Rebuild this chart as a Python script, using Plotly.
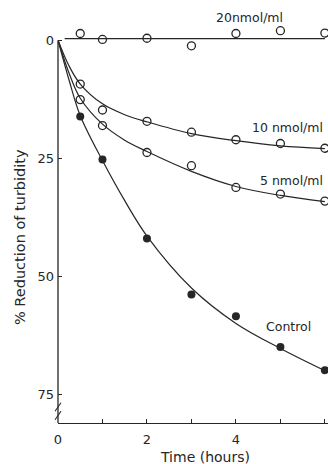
import plotly.graph_objects as go

# ---- data ----
time_points = [0.5, 1, 2, 3, 4, 5, 6]
pts_20 = [-1.4, -0.15, -0.4, 1.2, -1.4, -2.0, -1.5]
pts_10 = [9.3, 14.8, 17.2, 19.5, 21.1, 21.9, 22.9]
pts_5 = [12.6, 18.1, 23.8, 26.6, 31.2, 32.6, 34.1]
pts_control = [16.2, 25.3, 42.0, 53.9, 58.5, 65.0, 69.9]

# fitted curves
curve_t = [0, 0.25, 0.5, 1, 1.5, 2, 3, 4, 5, 6]
curve_10 = [0, 5.5, 9.3, 13.5, 15.8, 17.3, 19.8, 21.3, 22.4, 23.0]
curve_5 = [0, 7.0, 12.3, 17.8, 21.2, 23.6, 27.8, 31.0, 32.9, 34.2]
curve_control = [0, 8.5, 16.0, 25.5, 34.0, 41.5, 52.5, 60.0, 65.3, 70.0]
line20_t = [0.15, 6]
line20_v = [-0.3, -0.3]

x_ticks = [0, 1, 2, 3, 4, 5, 6]
x_ticklabels = ["0", "", "2", "", "4", "", "6"]
y_ticks = [0, 25, 50, 75]
y_ticklabels = ["0", "25", "50", "75"]

labels = ["20nmol/ml", "10 nmol/ml", "5 nmol/ml", "Control"]

# ---- styling ----
INK = "#262626"
FONT = "DejaVu Sans"
Y_TOP, Y_BOTTOM = -8.5, 81.1
X_MAX = 6.07


def ypaper(v):
    return (Y_BOTTOM - v) / (Y_BOTTOM - Y_TOP)


fig = go.Figure()

for cx, cy in [(line20_t, line20_v), (curve_t, curve_10), (curve_t, curve_5), (curve_t, curve_control)]:
    fig.add_trace(go.Scatter(x=cx, y=cy, mode="lines", line=dict(color=INK, width=1.2, shape="spline", smoothing=1.0),
                             hoverinfo="skip", showlegend=False))

open_marker = dict(symbol="circle-open", size=8, color=INK, line=dict(width=1.3, color=INK))
for ys in [pts_20, pts_10, pts_5]:
    fig.add_trace(go.Scatter(x=time_points, y=ys, mode="markers", marker=open_marker, cliponaxis=False,
                             showlegend=False))
fig.add_trace(go.Scatter(x=time_points, y=pts_control, mode="markers",
                         marker=dict(symbol="circle", size=8, color=INK), cliponaxis=False, showlegend=False))

annots = [
    dict(x=4.31, y=-4.7, text=labels[0]),
    dict(x=5.16, y=18.5, text=labels[1]),
    dict(x=5.25, y=29.7, text=labels[2]),
    dict(x=5.19, y=60.6, text=labels[3]),
]
for a in annots:
    fig.add_annotation(x=a["x"], y=a["y"], text=a["text"], showarrow=False,
                       font=dict(family=FONT, size=12.5, color=INK), xanchor="center", yanchor="middle")

# y title
fig.add_annotation(xref="paper", yref="paper", x=-38 / 270, y=ypaper(Y_TOP + (237 / 4.72)), text="% Reduction of turbidity",
                   textangle=-90, showarrow=False, font=dict(family=FONT, size=14.5, color=INK),
                   xanchor="center", yanchor="middle")
# x title
fig.add_annotation(xref="paper", yref="paper", x=(205 - 58) / 270, y=-34 / 423, text="Time (hours)",
                   showarrow=False, font=dict(family=FONT, size=14, color=INK), xanchor="center", yanchor="middle")

# y axis line from 0 to bottom
fig.add_shape(type="line", xref="paper", yref="paper", x0=0, x1=0, y0=0, y1=ypaper(0),
              line=dict(color=INK, width=1.3))
# axis break slashes
for dy in [0, 1.8]:
    fig.add_shape(type="line", xref="paper", yref="paper", x0=-3 / 270, x1=3 / 270,
                  y0=ypaper(78.6 + dy), y1=ypaper(76.8 + dy), line=dict(color=INK, width=1.1))

fig.update_layout(
    width=328, height=464,
    margin=dict(l=58, r=0, t=0, b=41),
    paper_bgcolor="white", plot_bgcolor="white",
    font=dict(family=FONT, color=INK, size=13),
    xaxis=dict(range=[0, X_MAX], tickvals=x_ticks, ticktext=x_ticklabels, ticks="inside", ticklen=4,
               tickwidth=1.2, tickcolor=INK, showgrid=False, zeroline=False, showline=True, linecolor=INK,
               linewidth=1.3, tickfont=dict(size=13), ticklabelstandoff=4),
    yaxis=dict(range=[Y_BOTTOM, Y_TOP], tickvals=y_ticks, ticktext=y_ticklabels, ticks="inside", ticklen=4,
               tickwidth=1.2, tickcolor=INK, showgrid=False, zeroline=False, showline=False,
               tickfont=dict(size=13), ticklabelstandoff=3),
)

fig.write_html("out.html", config={"displayModeBar": False},
               post_script="document.body.style.margin='0px';document.body.style.overflow='hidden';")
